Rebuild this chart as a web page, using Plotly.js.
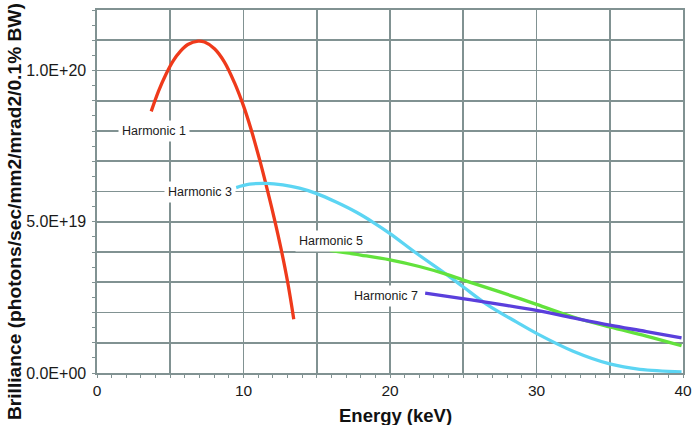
<!DOCTYPE html>
<html>
<head>
<meta charset="utf-8">
<script src="https://cdn.plot.ly/plotly-3.0.1.min.js"></script>
<style>html,body{margin:0;padding:0;background:#fff;}#chart{width:693px;height:425px;}</style>
</head>
<body>
<div id="chart"></div>
<script>
// Energy (keV) and brilliance values
const h1Energy = [3.70, 4.2, 4.7, 5.2, 5.7, 6.2, 6.9, 7.34, 8.02, 8.70, 9.39, 10.0, 10.52, 11.09, 11.61, 12.11, 12.57, 13.02, 13.43];
const h1Brill  = [8.65e19, 9.32e19, 9.87e19, 1.032e20, 1.064e20, 1.086e20, 1.097e20, 1.094e20, 1.072e20, 1.028e20, 9.59e19, 8.83e19, 8.05e19, 7.07e19, 6.09e19, 5.09e19, 4.09e19, 2.99e19, 1.78e19];

const h3Energy = [9.5, 10.41, 11.55, 12.68, 13.82, 15.0, 16.32, 17.68, 18.82, 20.0, 21.83, 23.87, 24.96, 26.6, 28.65, 30.0, 32.5, 35.0, 37.06, 39.9];
const h3Brill  = [6.13e19, 6.24e19, 6.27e19, 6.22e19, 6.11e19, 5.93e19, 5.65e19, 5.32e19, 4.99e19, 4.61e19, 3.95e19, 3.25e19, 2.86e19, 2.27e19, 1.68e19, 1.31e19, 0.72e19, 0.30e19, 0.12e19, 0.04e19];

const h5Energy = [15.9, 18.0, 20.0, 22.0, 23.87, 24.96, 27.5, 30.0, 32.5, 35.0, 37.5, 39.9];
const h5Brill  = [4.05e19, 3.9e19, 3.74e19, 3.52e19, 3.26e19, 3.08e19, 2.68e19, 2.27e19, 1.85e19, 1.52e19, 1.22e19, 0.9e19];

const h7Energy = [22.4, 24.96, 27.5, 30.0, 32.5, 35.0, 37.5, 39.9];
const h7Brill  = [2.64e19, 2.46e19, 2.27e19, 2.07e19, 1.82e19, 1.58e19, 1.37e19, 1.16e19];

const seriesNames = ["Harmonic 1", "Harmonic 3", "Harmonic 5", "Harmonic 7"];

const xTickVals = [0, 5, 10, 15, 20, 25, 30, 35, 40];
const xTickText = ["0", "", "10", "", "20", "", "30", "", "40"];
const yTickVals = [0, 1e19, 2e19, 3e19, 4e19, 5e19, 6e19, 7e19, 8e19, 9e19, 1e20, 1.1e20, 1.2e20];
const yTickText = ["0.0E+00", "", "", "", "", "5.0E+19", "", "", "", "", "1.0E+20", "", ""];

// label anchor points (energy, brilliance) for the series names
const labelEnergy = [3.9, 7.0, 16.0, 19.7];
const labelBrill  = [8.0e19, 5.98e19, 4.35e19, 2.53e19];

const colors = ["#ef3a1b", "#5cd5f3", "#62e23c", "#5a3fdc"];
const xs = [h1Energy, h3Energy, h5Energy, h7Energy];
const ys = [h1Brill, h3Brill, h5Brill, h7Brill];

const traces = xs.map((x, i) => ({
  x: x, y: ys[i], type: "scatter", mode: "lines", name: seriesNames[i],
  line: {color: colors[i], width: 3.3, shape: "spline", smoothing: 1.0},
  hoverinfo: "skip"
}));

const fam = "Liberation Sans, Arial, Helvetica, sans-serif";
const gridColor = "#819292";
const annotations = seriesNames.map((n, i) => ({
  x: labelEnergy[i], y: labelBrill[i], xref: "x", yref: "y",
  text: n, showarrow: false, bgcolor: "#ffffff", borderpad: 3,
  font: {family: fam, size: 12.5, color: "#1c1c1c"}
}));
annotations.push({
  xref: "paper", yref: "paper", x: 0.51, y: -0.116, xanchor: "center", yanchor: "middle",
  text: "<b>Energy (keV)</b>", showarrow: false,
  font: {family: fam, size: 18.5, color: "#111"}
});
annotations.push({
  xref: "paper", yref: "paper", x: -0.1416, y: 0.4435, xanchor: "center", yanchor: "middle",
  text: "<b>Brilliance (photons/sec/mm2/mrad2/0.1% BW)</b>", showarrow: false, textangle: -90,
  font: {family: fam, size: 19.2, color: "#111"}
});

const layout = {
  width: 693, height: 425,
  margin: {l: 97, r: 10, t: 10, b: 52},
  paper_bgcolor: "#fff", plot_bgcolor: "#fff",
  showlegend: false,
  font: {family: fam, color: "#1a1a1a"},
  xaxis: {
    range: [0, 40], tickvals: xTickVals, ticktext: xTickText,
    showgrid: true, gridcolor: gridColor, gridwidth: 1.6,
    showline: true, linecolor: gridColor, linewidth: 1.6, mirror: true,
    ticks: "outside", ticklen: 3, tickcolor: gridColor, tickwidth: 1,
    tickfont: {size: 15.5, color: "#1a1a1a"},
    minor: {dtick: 1, ticks: "outside", ticklen: 3, tickcolor: gridColor, showgrid: false},
    zeroline: false, fixedrange: true
  },
  yaxis: {
    range: [0, 1.2e20], tickvals: yTickVals, ticktext: yTickText,
    showgrid: true, gridcolor: gridColor, gridwidth: 1.6,
    showline: true, linecolor: gridColor, linewidth: 1.6, mirror: true,
    ticks: "outside", ticklen: 3, tickcolor: gridColor, tickwidth: 1,
    ticklabelstandoff: 3,
    tickfont: {size: 16, color: "#1a1a1a"},
    minor: {dtick: 5e18, ticks: "outside", ticklen: 3, tickcolor: gridColor, showgrid: false},
    zeroline: false, fixedrange: true
  },
  annotations: annotations
};

Plotly.newPlot("chart", traces, layout, {displayModeBar: false, staticPlot: true});
</script>
</body>
</html>
